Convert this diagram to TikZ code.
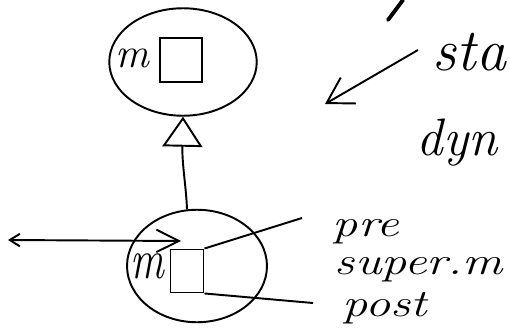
\documentclass[tikz,border=0pt]{standalone}
\usepackage{graphicx}
\usepackage{tikz}
\usetikzlibrary{arrows.meta}
\usetikzlibrary{shapes.geometric}

\newcommand{\hw}[1]{\scalebox{1.3}[1]{#1}}

\begin{document}
\begin{tikzpicture}[x=0.02cm, y=-0.02cm, line width=1.1pt,
        obj/.style={draw, ellipse, inner sep=0pt},
        slot/.style={draw, rectangle, inner sep=0pt},
        hand/.style={anchor=base west, inner sep=0pt, font=\fontsize{22}{26}\selectfont\itshape},
        barb/.style={-{Straight Barb[length=0.5cm, width=0.6cm]}}]
        \useasboundingbox (0,0) rectangle (510,328);
        \clip (0,0) rectangle (510,328);

        % class object
        \node[obj, minimum width=2.95cm, minimum height=2.15cm] at (183,62) (topm) {};
        \node[slot, minimum width=0.84cm, minimum height=0.88cm] at (181,60) (topslot) {};
        \node[inner sep=0pt, font=\fontsize{24}{26}\selectfont\itshape] at (132,58) (topname) {m};

        % subclass object
        \node[obj, minimum width=2.8cm, minimum height=2.25cm] at (197,266) (botm) {};
        \node[slot, minimum width=0.66cm, minimum height=0.86cm] at (187,271) (botslot) {};
        \node[inner sep=0pt, font=\fontsize{32}{34}\selectfont\itshape] at (147,266) (botname) {\scalebox{0.75}[1]{m}};
        \draw[-{Triangle[open, width=0.8cm, length=0.6cm]}] (botm.100) .. controls (186,185) and (182,165) .. (topm.south);

        % call from outside
        \coordinate (caller) at (8,240);
        \coordinate (callee) at (181,241);
        \draw[{Straight Barb[length=0.2cm, width=0.25cm]}-{Straight Barb[length=0.45cm, width=0.45cm]}] (caller) -- (callee);

        % pre / super.m / post
        \coordinate (preend) at (302,218);
        \coordinate (postend) at (313,303);
        \draw (botslot.north east) -- (preend);
        \draw (botslot.south east) -- (postend);
        \node[hand] at (332,236) (pre) {\hw{pre}};
        \node[hand] at (334,274) (superm) {\hw{super.m}};
        \node[hand] at (342,316) (post) {\hw{post}};

        % static / dynamic
        \draw[line width=2.2pt, line cap=round] (388,20) -- (403,0);
        \coordinate (stafrom) at (418,50);
        \coordinate (stato) at (325,104);
        \draw[barb] (stafrom) -- (stato);
        \node[anchor=base west, inner sep=0pt, font=\fontsize{34}{38}\selectfont\itshape] at (432,70) (sta) {sta};
        \node[anchor=base west, inner sep=0pt, font=\fontsize{30}{34}\selectfont\itshape] at (416,155) (dyn) {dyn};
    \end{tikzpicture}
\end{document}
